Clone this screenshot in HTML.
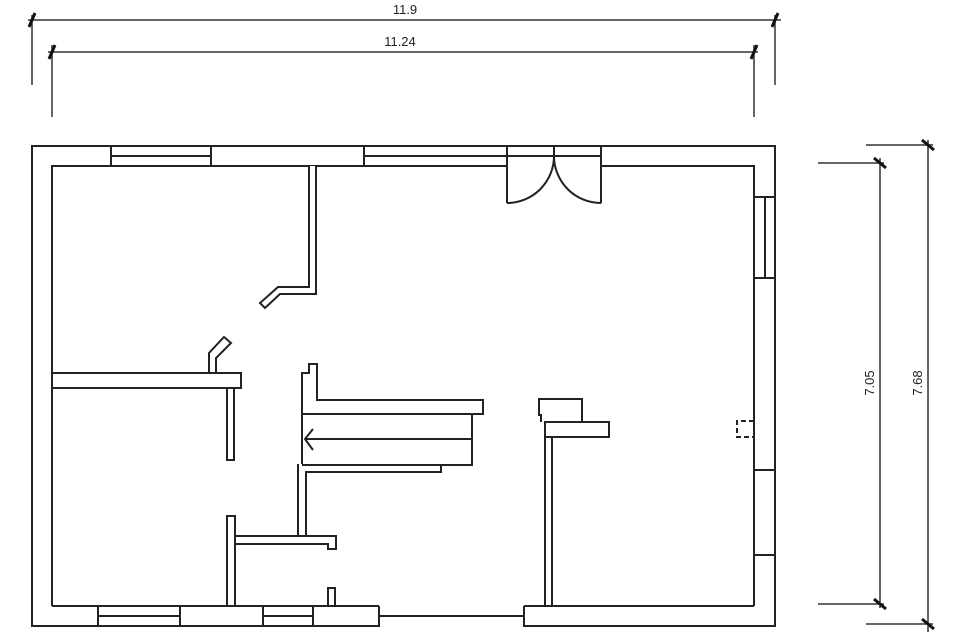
<!DOCTYPE html>
<html><head><meta charset="utf-8"><style>
html,body{margin:0;padding:0;background:#fff;width:960px;height:640px;overflow:hidden}
svg{display:block}
text{font-family:"Liberation Sans",sans-serif;font-size:13px;fill:#222}
</style></head><body>
<svg width="960" height="640" viewBox="0 0 960 640" xmlns="http://www.w3.org/2000/svg">
<g fill="none" stroke="#222" stroke-width="2">
<!-- outer walls -->
<path d="M32,626 V146 H775 V626 Z"/>
<path d="M52,606 V166 H507 M601,166 H754 V606"/>
<path d="M52,606 H379 M524,606 H754"/>
<!-- top windows -->
<path d="M111,146 V166 M211,146 V166 M111,156 H211"/>
<path d="M364,146 V166 M364,156 H507"/>
<!-- door -->
<path d="M507,156 H601 M507,146 V203 M601,146 V203 M554,146 V156"/>
<path d="M507,203 A47,47 0 0 0 554,156 M601,203 A47,47 0 0 1 554,156"/>
<!-- right windows -->
<path d="M754,197 H775 M754,278 H775 M765,197 V278"/>
<path d="M754,470 H775 M754,555 H775"/>
<path d="M754,421 H737 V437 H754" stroke-dasharray="5,3"/>
<!-- bottom wall -->
<rect x="380" y="605" width="143" height="22" fill="#fff" stroke="none"/>
<path d="M379,606 V626 M524,606 V626 M379,616 H524"/>
<path d="M98,606 V626 M180,606 V626 M98,616 H180"/>
<path d="M263,606 V626 M313,606 V626 M263,616 H313"/>
<path d="M328,606 V588 H335 V606"/>
<!-- interior walls -->
<path d="M309,166 V287 H278 L260,303 L265,308 L280,294 H316 V166" fill="#fff"/>
<path d="M52,373 H241 V388 H52"/>
<path d="M209,373 V353 L224,337 L231,343 L216,358 V373"/>
<path d="M227,388 V460 H234 V388"/>
<path d="M227,606 V516 H235 V606"/>
<path d="M235,536 H336 V549 H328 V544 H235"/>
<!-- stair block -->
<path d="M302,464 V373 H309 V364 H317 V400 H483 V415"/>
<path d="M302,414 H483"/>
<path d="M472,414 V465 H302"/>
<path d="M305,439 H472"/>
<path d="M313,429 L305,439 L313,450"/>
<path d="M298,464 V535 M306,535 V472 H441 V465"/>
<!-- right interior -->
<path d="M545,606 V437 M552,606 V437"/>
<path d="M541,422 V415 H539 V399 H582 V422"/>
<path d="M545,422 H609 V437 H545 Z"/>
</g>
<!-- dimensions -->
<g fill="none" stroke="#333" stroke-width="1.5">
<path d="M28,20 H781 M32,15 V85 M775,15 V85"/>
<path d="M48,52 H758 M52,45 V117 M754,45 V117"/>
<path d="M818,163 H884 M880,158 V608 M818,604 H884"/>
<path d="M866,145 H933 M928,140 V632 M866,624 H933"/>
</g>
<g stroke="#111" stroke-width="3">
<path d="M29,27 L35,13 M772,27 L778,13 M49,59 L55,45 M751,59 L757,45"/>
<path d="M874,158 L886,168 M874,599 L886,609 M922,140 L934,150 M922,619 L934,629"/>
</g>
<text x="405" y="14" text-anchor="middle">11.9</text>
<text x="400" y="46" text-anchor="middle">11.24</text>
<text transform="translate(874,383) rotate(-90)" text-anchor="middle">7.05</text>
<text transform="translate(922,383) rotate(-90)" text-anchor="middle">7.68</text>
</svg>
</body></html>
